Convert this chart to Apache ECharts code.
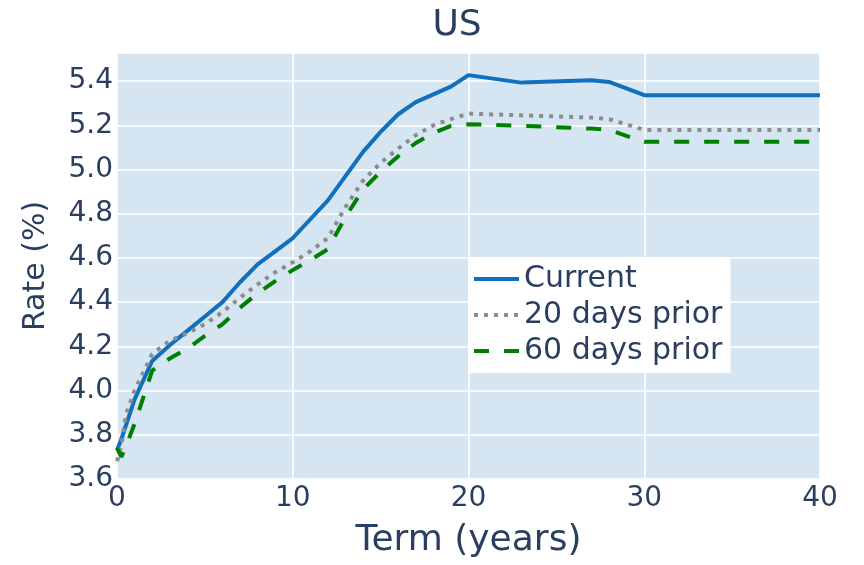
<!DOCTYPE html>
<html>
<head>
<meta charset="utf-8">
<script src="https://cdn.jsdelivr.net/npm/echarts@6/dist/echarts.min.js"></script>
<style>
  html, body { margin: 0; padding: 0; background: #fff; }
  #chart { width: 864px; height: 565px; }
</style>
</head>
<body>
<div id="chart"></div>
<script>
// term points (years) and rates (%)
const terms = [0, 0.25, 0.5, 1, 2, 3, 4, 5, 6, 7, 8, 9, 10, 11, 12, 13, 14, 15, 16, 17, 18, 19, 20, 23, 27, 28, 30, 40];
const current = [3.73, 3.78, 3.84, 3.96, 4.134, 4.205, 4.27, 4.335, 4.40, 4.49, 4.571, 4.63, 4.69, 4.775, 4.86, 4.97, 5.08, 5.17, 5.25, 5.305, 5.34, 5.375, 5.427, 5.393, 5.404, 5.396, 5.336, 5.336];
const prior20 = [3.68, 3.75, 3.89, 4.00, 4.165, 4.225, 4.26, 4.30, 4.355, 4.42, 4.48, 4.535, 4.58, 4.63, 4.69, 4.83, 4.95, 5.03, 5.095, 5.155, 5.20, 5.228, 5.253, 5.245, 5.235, 5.228, 5.179, 5.179];
const prior60 = [3.74, 3.70, 3.745, 3.85, 4.09, 4.145, 4.19, 4.247, 4.30, 4.375, 4.44, 4.495, 4.545, 4.59, 4.64, 4.785, 4.91, 4.99, 5.06, 5.12, 5.165, 5.197, 5.205, 5.198, 5.185, 5.179, 5.125, 5.125];
const seriesNames = ['Current', '20 days prior', '60 days prior'];

const font = 'DejaVu Sans';
const textColor = '#2a3f5f';

function pairs(vals) {
    return terms.map((t, i) => [t, vals[i]]);
}

const chart = echarts.init(document.getElementById('chart'));

chart.setOption({
    animation: false,
    title: {
        text: 'US',
        left: 452,
        top: 3,
        textAlign: 'center',
        textStyle: { fontFamily: font, fontSize: 36, fontWeight: 'normal', color: textColor }
    },
    grid: {
        left: 117, right: 44, top: 53, bottom: 86,
        show: true, backgroundColor: '#d5e5f2', borderWidth: 0
    },
    legend: {
        orient: 'vertical',
        left: 468, top: 257,
        backgroundColor: '#ffffff',
        padding: [7, 8, 7, 4],
        itemGap: 6,
        itemWidth: 45, itemHeight: 16,
        itemStyle: { opacity: 0 },
        lineStyle: { width: 4 },
        textStyle: { fontFamily: font, fontSize: 30, color: textColor },
        data: seriesNames
    },
    xAxis: {
        type: 'value',
        min: 0, max: 40, interval: 10,
        name: 'Term (years)',
        nameLocation: 'middle',
        nameGap: 44,
        nameTextStyle: { fontFamily: font, fontSize: 36, color: textColor },
        axisLine: { show: false },
        axisTick: { show: false },
        axisLabel: { fontFamily: font, fontSize: 28, color: textColor, margin: 6 },
        splitLine: { lineStyle: { color: '#ffffff', width: 1.5 } }
    },
    yAxis: {
        type: 'value',
        min: 3.6, max: 5.527, interval: 0.2,
        name: 'Rate (%)',
        nameLocation: 'middle',
        nameGap: 66,
        nameTextStyle: { fontFamily: font, fontSize: 30, color: textColor },
        axisLine: { show: false },
        axisTick: { show: false },
        axisLabel: {
            fontFamily: font, fontSize: 28, color: textColor, margin: 4,
            showMaxLabel: false,
            formatter: v => v.toFixed(1)
        },
        splitLine: { lineStyle: { color: '#ffffff', width: 1.5 } }
    },
    series: [
        {
            name: seriesNames[0], type: 'line', data: pairs(current),
            symbol: 'none',
            lineStyle: { color: '#1170bd', width: 4 },
            itemStyle: { color: '#1170bd' }
        },
        {
            name: seriesNames[1], type: 'line', data: pairs(prior20),
            symbol: 'none',
            lineStyle: { color: '#8c8c8c', width: 4, type: [4, 6] },
            itemStyle: { color: '#8c8c8c' }
        },
        {
            name: seriesNames[2], type: 'line', data: pairs(prior60),
            symbol: 'none',
            lineStyle: { color: '#008000', width: 4, type: [15, 15] },
            itemStyle: { color: '#008000' }
        }
    ]
});
</script>
</body>
</html>
